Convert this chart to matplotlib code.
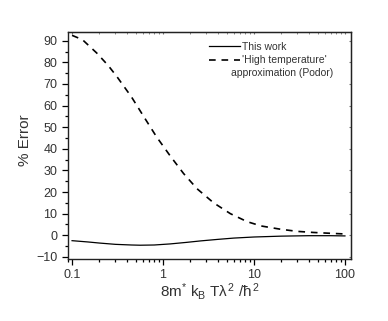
import numpy as np
import matplotlib.pyplot as plt
from matplotlib.ticker import LogLocator, FixedLocator, FuncFormatter

plt.rcParams['font.family'] = ['Liberation Sans', 'DejaVu Sans']
plt.rcParams['mathtext.fontset'] = 'custom'
plt.rcParams['mathtext.rm'] = 'Liberation Sans'
plt.rcParams['mathtext.it'] = 'Liberation Sans'

# data
x_this = [0.1, 0.15, 0.2, 0.3, 0.45, 0.56, 0.8, 1.2, 1.8, 2.6, 4, 6, 10, 20, 40, 70, 100]
y_this = [-2.5, -3.1, -3.6, -4.2, -4.5, -4.6, -4.5, -4.0, -3.3, -2.6, -1.9, -1.3, -0.8, -0.4, -0.2, -0.2, -0.3]

x_podor = [0.1, 0.13, 0.187, 0.25, 0.31, 0.45, 0.61, 0.85, 1.2, 1.68, 2.37, 3.6, 5.5, 8.4, 12, 19.5, 30, 45, 70, 100]
y_podor = [92.5, 90.5, 84.3, 78.5, 73.5, 64.0, 55.1, 45.5, 36.7, 28.6, 21.5, 15.0, 10.0, 6.3, 4.3, 2.8, 1.8, 1.3, 0.9, 0.6]

fig, ax = plt.subplots(figsize=(3.88, 3.21), dpi=100)
fig.subplots_adjust(left=0.175, right=0.905, top=0.9, bottom=0.193)

ax.plot(x_this, y_this, color='black', lw=0.9, label='This work')
ax.plot(x_podor, y_podor, color='black', lw=1.2, ls=(0, (4, 3.5)),
        label="'High temperature'")

ax.set_xscale('log')
ax.set_xlim(0.09, 117)
ax.set_ylim(-11, 94)
ax.set_yticks(np.arange(-10, 91, 10))
ax.yaxis.set_minor_locator(FixedLocator(np.arange(-5, 91, 10)))
ax.xaxis.set_major_locator(LogLocator(base=10))
ax.xaxis.set_minor_locator(LogLocator(base=10, subs=np.arange(2, 10)))
ax.xaxis.set_major_formatter(FuncFormatter(lambda v, p: '%g' % v))
ax.xaxis.set_minor_formatter(FuncFormatter(lambda v, p: ''))

ax.tick_params(which='both', direction='out', labelsize=9, labelcolor='#333333', width=0.9)
ax.tick_params(which='major', length=4)
ax.tick_params(which='minor', length=2.5)
# small inward ticks on the top and right edges
ax.secondary_xaxis('top').tick_params(which='both', direction='in', length=1.5,
                                       labeltop=False, color='#777777')
sec_y = ax.secondary_yaxis('right')
sec_y.tick_params(which='both', direction='in', length=1.5, labelright=False, color='#777777')
sec_y.set_yticks(np.arange(-10, 91, 10))
for s in ax.spines.values():
    s.set_linewidth(1.0)
    s.set_color('#222222')

ax.set_ylabel('% Error', fontsize=11, color='#333333')
ax.yaxis.set_label_coords(-0.127, 0.524)
ax.set_xlabel(r'8m$^{*}$ k$_B$ T$\lambda^2$ /$\hbar^2$', fontsize=11, color='#333333', labelpad=-0.5)

leg = ax.legend(loc='upper left', frameon=False, fontsize=7.5, handlelength=3.0,
                handletextpad=0.2, labelspacing=0.35, borderpad=0, borderaxespad=0,
                bbox_to_anchor=(0.498, 0.958))
for t in leg.get_texts():
    t.set_color('#333333')
ax.text(0.575, 0.818, 'approximation (Podor)', transform=ax.transAxes, fontsize=7.5,
        color='#333333', ha='left', va='center')

fig.savefig('out.png', dpi=100)
